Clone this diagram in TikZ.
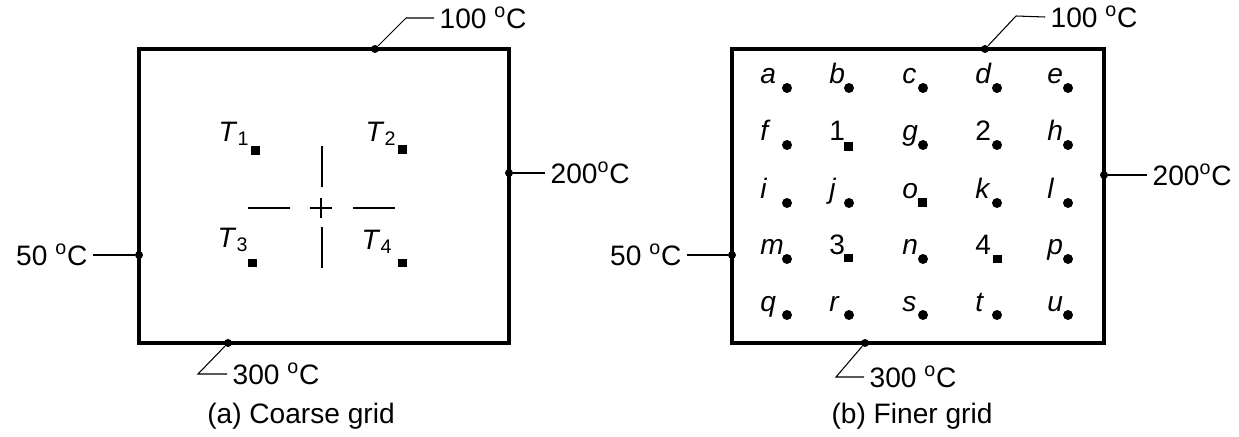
\documentclass[tikz,border=0pt]{standalone}
\usepackage{fontspec}
\setmainfont{Liberation Sans}
\usetikzlibrary{positioning}

\begin{document}
\begin{tikzpicture}[x=0.02cm,y=0.02cm,
  font=\fontsize{16}{19}\selectfont,
  wall/.style={draw=black,line width=1.8pt},
  jn/.style={circle,fill=black,inner sep=0pt,minimum size=0.16cm},
  pt/.style={circle,fill=black,inner sep=0pt,minimum size=0.2cm},
  sq/.style={rectangle,fill=black,inner sep=0pt,minimum size=0.18cm},
  tmp/.style={inner sep=3pt},
  lbl/.style={anchor=base west,inner sep=0pt},
  ldr/.style={draw=black,line width=0.6pt},
  hair/.style={draw=black,line width=0.9pt}]
\useasboundingbox (0,0) rectangle (1239,436);

% ----------------------------- (a) coarse grid -----------------------------
\draw[wall] (139,93) rectangle (509,387);
\node[jn] (jA1) at (375,387) {};
\node[jn] (jA2) at (509,263) {};
\node[jn] (jA3) at (139,181) {};
\node[jn] (jA4) at (228,93) {};
\coordinate (kA1) at (406,418);
\coordinate (kA4) at (198,62);
\node[tmp,anchor=west] (tA1) at (434,418) {100 \textsuperscript{o}C};
\node[tmp,anchor=west] (tA2) at (545,263) {200\textsuperscript{o}C};
\node[tmp,anchor=east] (tA3) at (93,181) {50 \textsuperscript{o}C};
\node[tmp,anchor=west] (tA4) at (227,62) {300 \textsuperscript{o}C};
\draw[ldr] (jA1) -- (kA1) -- (tA1.west);
\draw[ldr] (jA2) -- (tA2);
\draw[ldr] (tA3) -- (jA3);
\draw[ldr] (jA4) -- (kA4) -- (tA4.west);

\node[sq] (s1) at (255,285) {};
\node[sq] (s2) at (402,286) {};
\node[sq] (s3) at (252,173) {};
\node[sq] (s4) at (402,173) {};
\node (T1) at (234,302) {\textit{T}\textsubscript{1}};
\node (T2) at (381,302) {\textit{T}\textsubscript{2}};
\node (T3) at (233,196) {\textit{T}\textsubscript{3}};
\node (T4) at (377,194) {\textit{T}\textsubscript{4}};

% cross between the four nodes
\draw[hair] (322,290) -- (322,249);
\draw[hair] (322,209) -- (322,168);
\draw[hair] (248,228) -- (290,228);
\draw[hair] (353,228) -- (395,228);
\draw[hair] (310,228) -- (332,228) (321,218) -- (321,238);

\node (capA) at (301,20) {(a) Coarse grid};

% ----------------------------- (b) finer grid ------------------------------
\draw[wall] (732,93) rectangle (1104,387);
\node[jn] (jB1) at (985,387) {};
\node[jn] (jB2) at (1104,261) {};
\node[jn] (jB3) at (732,181) {};
\node[jn] (jB4) at (865,93) {};
\coordinate (kB1) at (1016,420);
\coordinate (kB4) at (836,59);
\node[tmp,anchor=west] (tB1) at (1045,419) {100 \textsuperscript{o}C};
\node[tmp,anchor=west] (tB2) at (1147,261) {200\textsuperscript{o}C};
\node[tmp,anchor=east] (tB3) at (687,181) {50 \textsuperscript{o}C};
\node[tmp,anchor=west] (tB4) at (864,59) {300 \textsuperscript{o}C};
\draw[ldr] (jB1) -- (kB1) -- (tB1.west);
\draw[ldr] (jB2) -- (tB2);
\draw[ldr] (tB3) -- (jB3);
\draw[ldr] (jB4) -- (kB4) -- (tB4.west);

% row 1
\node[pt] (na) at (787,348) {};  \node[lbl] (la) at (760,352) {\textit{a}};
\node[pt] (nb) at (849,348) {};  \node[lbl] (lb) at (829,352) {\textit{b}};
\node[pt] (nc) at (923,348) {};  \node[lbl] (lc) at (902,352) {\textit{c}};
\node[pt] (nd) at (997,348) {};  \node[lbl] (ld) at (975,352) {\textit{d}};
\node[pt] (ne) at (1068,348) {}; \node[lbl] (le) at (1047,352) {\textit{e}};
% row 2
\node[pt] (nf) at (787,291) {};  \node[lbl] (lf) at (760,295) {\textit{f}};
\node[sq] (n1) at (848,289) {};  \node[lbl] (l1) at (829,295) {1};
\node[pt] (ng) at (923,291) {};  \node[lbl] (lg) at (902,295) {\textit{g}};
\node[pt] (n2) at (997,291) {};  \node[lbl] (l2) at (975,295) {2};
\node[pt] (nh) at (1068,291) {}; \node[lbl] (lh) at (1047,295) {\textit{h}};
% row 3
\node[pt] (ni) at (787,233) {};  \node[lbl] (li) at (760,237) {\textit{i}};
\node[pt] (nj) at (849,233) {};  \node[lbl] (lj) at (829,237) {\textit{j}};
\node[sq] (no) at (922,233) {};  \node[lbl] (lo) at (902,237) {\textit{o}};
\node[pt] (nk) at (997,233) {};  \node[lbl] (lk) at (975,237) {\textit{k}};
\node[pt] (nl) at (1068,233) {}; \node[lbl] (ll) at (1047,237) {\textit{l}};
% row 4
\node[pt] (nm) at (787,177) {};  \node[lbl] (lm) at (760,181) {\textit{m}};
\node[sq] (n3) at (848,178) {};  \node[lbl] (l3) at (829,181) {3};
\node[pt] (nn) at (923,177) {};  \node[lbl] (ln) at (902,181) {\textit{n}};
\node[sq] (n4) at (997,177) {};  \node[lbl] (l4) at (975,181) {4};
\node[pt] (np) at (1068,177) {}; \node[lbl] (lp) at (1047,181) {\textit{p}};
% row 5
\node[pt] (nq) at (787,121) {};  \node[lbl] (lq) at (760,125) {\textit{q}};
\node[pt] (nr) at (849,121) {};  \node[lbl] (lr) at (829,125) {\textit{r}};
\node[pt] (ns) at (923,121) {};  \node[lbl] (ls) at (902,125) {\textit{s}};
\node[pt] (nt) at (997,121) {};  \node[lbl] (lt) at (975,125) {\textit{t}};
\node[pt] (nu) at (1068,121) {}; \node[lbl] (lu) at (1047,125) {\textit{u}};

\node (capB) at (912,20) {(b) Finer grid};
\end{tikzpicture}
\end{document}
